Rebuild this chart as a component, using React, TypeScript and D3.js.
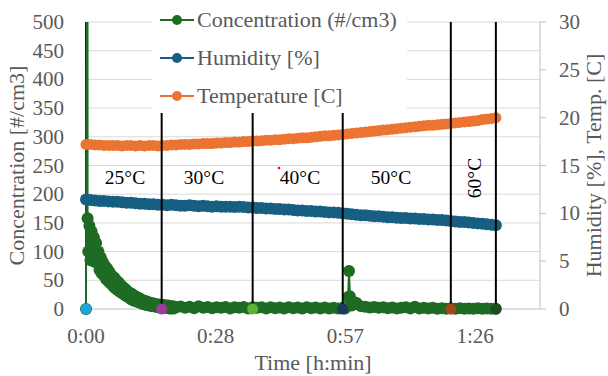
import * as d3 from "d3";

// ── Data ──────────────────────────────────────────────────────
// time in minutes since start
const minutes = d3.range(0, 92);

const humidity = [
  11.45, 11.4, 11.35, 11.3, 11.3, 11.25, 11.2, 11.2, 11.15, 11.1, 11.1,
  11.05, 11.0, 11.0, 10.95, 10.95, 10.9, 10.9, 10.85, 10.9, 10.85,
  10.8, 10.8, 10.85, 10.8, 10.75, 10.8, 10.75, 10.7, 10.75, 10.7,
  10.7, 10.7, 10.65, 10.7, 10.65, 10.6, 10.6, 10.55, 10.55, 10.5,
  10.5, 10.45, 10.45, 10.4, 10.4, 10.35, 10.3, 10.3, 10.25, 10.25,
  10.2, 10.2, 10.15, 10.1, 10.1, 10.05, 10.0, 9.95, 9.9, 9.85,
  9.8, 9.8, 9.75, 9.7, 9.7, 9.65, 9.6, 9.6, 9.55, 9.5,
  9.5, 9.45, 9.45, 9.4, 9.4, 9.35, 9.35, 9.3, 9.3, 9.25,
  9.2, 9.15, 9.1, 9.1, 9.05, 9.0, 8.95, 8.9, 8.85, 8.8, 8.75,
];

const temperature = [
  17.2, 17.2, 17.15, 17.15, 17.1, 17.1, 17.1, 17.1, 17.05, 17.1, 17.1,
  17.05, 17.1, 17.05, 17.1, 17.1, 17.05, 17.1, 17.1, 17.15, 17.15,
  17.2, 17.2, 17.2, 17.25, 17.25, 17.3, 17.3, 17.3, 17.35, 17.35,
  17.4, 17.4, 17.45, 17.45, 17.5, 17.5, 17.55, 17.55, 17.6, 17.65,
  17.65, 17.7, 17.7, 17.75, 17.8, 17.8, 17.85, 17.9, 17.9, 17.95,
  18.0, 18.05, 18.1, 18.1, 18.15, 18.2, 18.25, 18.3, 18.35, 18.4,
  18.45, 18.5, 18.55, 18.6, 18.65, 18.7, 18.75, 18.8, 18.85, 18.9,
  18.95, 19.0, 19.05, 19.1, 19.15, 19.2, 19.2, 19.25, 19.3, 19.35,
  19.4, 19.45, 19.5, 19.55, 19.6, 19.65, 19.7, 19.8, 19.85, 19.9, 20.0,
];

// concentration is sampled more densely and is noisy during the decay
const concTime = [
  0, 0.3, 0.35, 0.5, 0.75, 1.0, 1.25, 1.5, 1.75, 2.0, 2.25, 2.5, 2.75, 3.0, 3.25, 3.5, 3.75,
  4.0, 4.25, 4.5, 4.75, 5.0, 5.25, 5.5, 5.75, 6.0, 6.25, 6.5, 6.75, 7.0, 7.25, 7.5, 7.75,
  8.0, 8.25, 8.5, 8.75, 9.0, 9.25, 9.5, 9.75, 10.0, 10.25, 10.5, 10.75, 11.0, 11.25, 11.5, 11.75,
  12.0, 12.25, 12.5, 12.75, 13.0, 13.25, 13.5, 13.75, 14.0, 14.25, 14.5, 14.75, 15.0, 15.25, 15.5, 15.75,
  16.0, 16.25, 16.5, 16.75, 17.0, 17.25, 17.5, 17.75, 18.0, 18.25, 18.5, 18.75, 19.0, 19.25, 19.5, 19.75,
  20, 21, 22, 23, 24, 25, 26, 27, 28, 29, 30, 31, 32, 33, 34, 35, 36, 37, 38, 39,
  40, 41, 42, 43, 44, 45, 46, 47, 48, 49, 50, 51, 52, 53, 54, 55, 56, 57, 57.5,
  58.2, 58.4, 58.6, 59, 60, 61, 62, 63, 64, 65, 66, 67, 68, 69, 70, 71, 72, 73,
  74, 75, 76, 77, 78, 79, 80, 81, 82, 83, 84, 85, 86, 87, 88, 89, 90, 91,
];
const concentration = [
  0, 1200, 158, 100, 145, 85, 135, 110, 125, 82, 115, 95, 100, 68, 90, 62, 82,
  58, 75, 52, 70, 48, 64, 44, 58, 40, 55, 36, 50, 33, 46, 30, 42,
  28, 38, 25, 35, 22, 31, 20, 28, 17, 26, 15, 23, 14, 21, 12, 19,
  11, 17, 9, 15, 8, 14, 7, 12, 6, 11, 5, 10, 5, 9, 4, 8,
  3, 8, 3, 7, 2, 7, 2, 6, 2, 6, 1, 5, 1, 5, 1, 4,
  3, 4.5, 2, 4, 1.5, 5, 2, 3.5, 1.5, 3, 2, 3.5, 1, 3, 2, 3.5, 1, 3, 2, 3,
  1, 3, 1.5, 2.5, 1, 3, 1.5, 2.5, 1, 3, 1.5, 2.5, 1, 2.5, 1, 2, 1, 2, 1,
  21, 66, 22, 6, 11, 5, 4, 2.5, 3.5, 2, 3, 1.5, 2.5, 1, 2, 3, 1, 4,
  1, 2, 1, 2, 0.5, 1.5, 0.5, 1.5, 0.5, 1.5, 0.5, 1, 0.5, 1.5, 0.5, 1, 0.5, 0.5,
];

// step markers (vertical bars) and the temperature set-points
const stepTime = [0, 16.8, 37.0, 57.0, 81.0, 91.0];
const stepColors = ["#1ea3dc", "#a03a9c", "#5db334", "#1b3b5e", "#a4461b", "#1c4a21"];
const stepLabels = ["25°C", "30°C", "40°C", "50°C", "60°C"];

const leftTicks = d3.range(0, 501, 50);
const rightTicks = d3.range(0, 31, 5);
const xTicks = [0, 28.8, 57.6, 86.4];
const xTickLabels = ["0:00", "0:28", "0:57", "1:26"];

const C_CONC = "#1e6b24";
const C_HUM = "#175f82";
const C_TEMP = "#ec7432";
const GREY = "#595959";
const FONT = "'Liberation Serif', 'Times New Roman', serif";

const W = 608, H = 376;
const L = 86, R = 540, T = 22, B = 309;

export default function App() {
  const x = d3.scaleLinear().domain([0, 100.8]).range([L, R]);
  const yL = d3.scaleLinear().domain([0, 500]).range([B, T]);
  const yR = d3.scaleLinear().domain([0, 30]).range([B, T]);

  const concPts = concTime.map((t, i) => [x(t), yL(concentration[i])] as [number, number]);
  const humPts = minutes.map((t, i) => [x(t), yR(humidity[i])] as [number, number]);
  const tempPts = minutes.map((t, i) => [x(t), yR(temperature[i])] as [number, number]);
  const line = d3.line();

  const series = [
    { pts: concPts, color: C_CONC, r: 6 },
    { pts: humPts, color: C_HUM, r: 6 },
    { pts: tempPts, color: C_TEMP, r: 5.5 },
  ];

  const legend = [
    { label: "Concentration (#/cm3)", color: C_CONC },
    { label: "Humidity [%]", color: C_HUM },
    { label: "Temperature [C]", color: C_TEMP },
  ];

  // label positions sit between the step bars
  const labelX = [125, 204, 300, 391];

  return (
    <svg width={W} height={H} style={{ position: "absolute", left: 0, top: 0, background: "#fff" }}
      fontFamily={FONT}>
      <defs>
        <clipPath id="plot">
          <rect x={0} y={T} width={W} height={H - T} />
        </clipPath>
      </defs>

      {/* gridlines */}
      {leftTicks.filter((v) => v > 0).map((v) => (
        <line key={v} x1={L} x2={R} y1={yL(v)} y2={yL(v)} stroke="#d9d9d9" strokeWidth={1} />
      ))}
      <line x1={L} x2={R} y1={B} y2={B} stroke="#bfbfbf" strokeWidth={1} />
      <line x1={R} x2={R} y1={T} y2={B} stroke="#bfbfbf" strokeWidth={1} />
      {rightTicks.map((v) => (
        <line key={v} x1={R} x2={R + 6} y1={yR(v)} y2={yR(v)} stroke="#bfbfbf" strokeWidth={1} />
      ))}

      {/* series */}
      <g clipPath="url(#plot)">
        {stepTime.slice(0, 1).map((t, i) => (
          <line key={i} x1={x(t)} x2={x(t)} y1={yL(0)} y2={yL(500)} stroke="#000" strokeWidth={2} />
        ))}
        {series.map((s, k) => (
          <g key={k}>
            <path d={line(s.pts) ?? ""} fill="none" stroke={s.color} strokeWidth={2} />
            {s.pts.map((p, i) => (
              <circle key={i} cx={p[0]} cy={p[1]} r={s.r} fill={s.color} />
            ))}
          </g>
        ))}
        {stepTime.slice(1).map((t, i) => (
          <line key={i} x1={x(t)} x2={x(t)} y1={yL(0)} y2={yL(500)} stroke="#000" strokeWidth={2} />
        ))}
        {stepTime.map((t, i) => (
          <circle key={i} cx={x(t)} cy={yL(0)} r={5.5} fill={stepColors[i]} />
        ))}
      </g>

      {/* set-point labels */}
      {stepLabels.slice(0, 4).map((s, i) => (
        <text key={s} x={labelX[i]} y={184} textAnchor="middle" fontSize={19.5} fill="#000">{s}</text>
      ))}
      <text transform="translate(481,178) rotate(-90)" textAnchor="middle" fontSize={19.5} fill="#000">
        {stepLabels[4]}
      </text>
      <circle cx={279} cy={168} r={1.3} fill="#ff0000" />

      {/* legend */}
      <rect x={152} y={0} width={255} height={113} fill="#fff" />
      {legend.map((d, i) => {
        const cy = 20 + i * 38;
        return (
          <g key={d.label}>
            <line x1={160} x2={194} y1={cy} y2={cy} stroke={d.color} strokeWidth={2} />
            <circle cx={177} cy={cy} r={5} fill={d.color} />
            <text x={197} y={cy + 7} fontSize={22} fill={GREY}>{d.label}</text>
          </g>
        );
      })}

      {/* axes text */}
      {leftTicks.map((v) => (
        <text key={v} x={64} y={yL(v) + 7} textAnchor="end" fontSize={21} fill={GREY}>{v}</text>
      ))}
      {rightTicks.map((v) => (
        <text key={v} x={559} y={yR(v) + 7} fontSize={21} fill={GREY}>{v}</text>
      ))}
      {xTicks.map((t, i) => (
        <text key={t} x={x(t)} y={343} textAnchor="middle" fontSize={21} fill={GREY}>{xTickLabels[i]}</text>
      ))}
      <text x={313} y={370} textAnchor="middle" fontSize={22} fill={GREY}>Time [h:min]</text>
      <text transform={`translate(24,${(T + B) / 2}) rotate(-90)`} textAnchor="middle" fontSize={22} fill={GREY}>
        Concentration [#/cm3]
      </text>
      <text transform={`translate(601,${(T + B) / 2}) rotate(-90)`} textAnchor="middle" fontSize={22} fill={GREY}>
        Humidity [%], Temp. [C]
      </text>
    </svg>
  );
}
